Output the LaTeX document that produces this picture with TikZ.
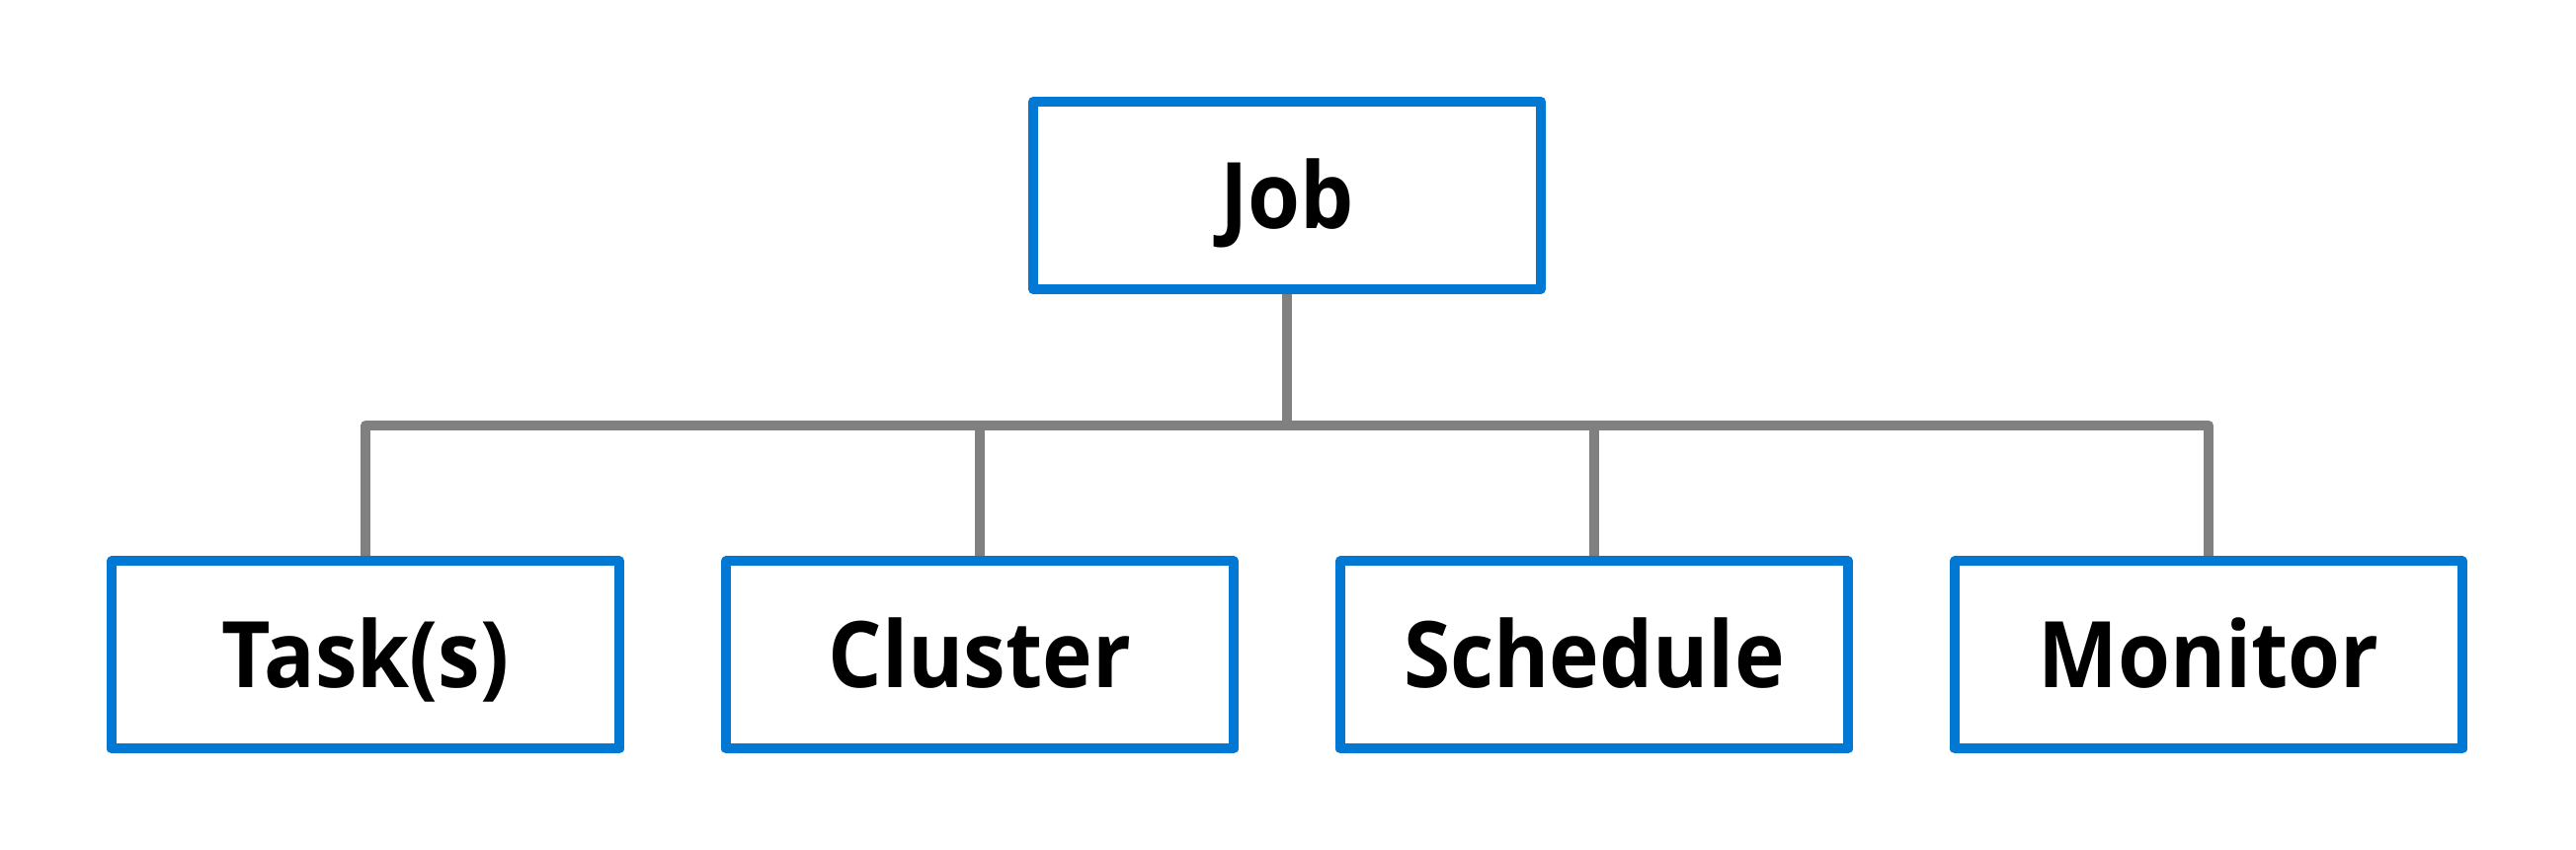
\documentclass[tikz,border=0pt]{standalone}
\usepackage{fontspec}
\setmainfont[FakeStretch=0.92]{Open Sans}
\usetikzlibrary{positioning}
\definecolor{boxblue}{HTML}{0078D4}
\definecolor{linegray}{HTML}{808080}
\tikzset{box/.style={draw=boxblue,line width=0.1cm,line join=round,fill=white,
    minimum width=5.14cm,minimum height=1.90cm,inner sep=0pt,
    text height=0.855cm,text depth=0.19cm,
    font=\fontsize{26.5}{30}\selectfont\bfseries},
  wire/.style={draw=linegray,line width=0.1cm,line join=round}}

\begin{document}
\begin{tikzpicture}
\useasboundingbox (0,0) rectangle (26.08,8.61);
\node[box] (job) at (13.03,6.63) {Job};
\foreach \name/\x/\txt in {t1/3.70/Task(s),t2/9.92/Cluster,t3/16.14/Schedule,t4/22.36/Monitor}
  \node[box] (\name) at (\x,1.975) {\txt};
\coordinate (bus) at (13.03,4.30);
\draw[wire] (job.south) -- (bus);
\draw[wire] (t1.north) |- (bus) -| (t4.north);
\draw[wire] (t2.north) -- (t2.north |- bus);
\draw[wire] (t3.north) -- (t3.north |- bus);
\end{tikzpicture}
\end{document}
